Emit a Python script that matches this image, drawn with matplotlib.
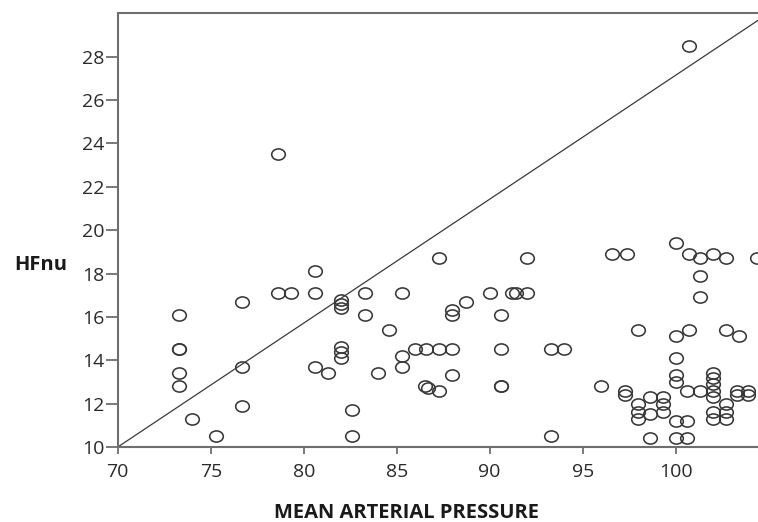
import matplotlib
matplotlib.use("Agg")
import matplotlib.pyplot as plt
from matplotlib.path import Path
from matplotlib.transforms import Affine2D

# mean arterial pressure vs HFnu
map_vals = [
    73.3, 73.3, 73.3, 73.3, 73.3, 74.0, 75.3, 76.7, 76.7, 76.7,
    78.6, 78.6, 79.3, 80.6, 80.6, 80.6, 81.3, 82.0, 82.0, 82.0,
    82.0, 82.0, 82.0, 82.6, 82.6, 83.3, 83.3, 84.0, 84.6, 85.3,
    85.3, 85.3, 86.0, 86.6, 86.5, 86.7, 87.3, 87.3, 87.3, 88.0,
    88.0, 88.0, 88.0, 88.7, 90.0, 90.6, 90.6, 90.6, 90.6, 91.2,
    91.4, 92.0, 92.0, 93.3, 94.0, 93.3, 96.0, 96.6, 97.4, 97.3,
    97.3, 98.0, 98.0, 98.0, 98.0, 98.6, 98.6, 98.6, 99.3, 99.3,
    99.3, 100.0, 100.0, 100.0, 100.0, 100.0, 100.0, 100.0, 100.6, 100.6,
    100.6, 100.7, 100.7, 100.7, 101.3, 101.3, 101.3, 101.3, 102.0, 102.0,
    102.0, 102.0, 102.0, 102.0, 102.0, 102.0, 102.7, 102.7, 102.7, 102.7,
    102.7, 103.4, 103.3, 103.3, 103.9, 103.9, 104.4,
]
hfnu_vals = [
    16.1, 14.5, 14.5, 13.4, 12.8, 11.3, 10.5, 16.7, 13.7, 11.9,
    23.5, 17.1, 17.1, 18.1, 17.1, 13.7, 13.4, 16.8, 16.6, 16.4,
    14.6, 14.4, 14.1, 11.7, 10.5, 17.1, 16.1, 13.4, 15.4, 17.1,
    14.2, 13.7, 14.5, 14.5, 12.8, 12.7, 14.5, 12.6, 18.7, 14.5,
    13.3, 16.3, 16.1, 16.7, 17.1, 16.1, 14.5, 12.8, 12.8, 17.1,
    17.1, 17.1, 18.7, 14.5, 14.5, 10.5, 12.8, 18.9, 18.9, 12.6,
    12.4, 15.4, 12.0, 11.6, 11.3, 12.3, 11.5, 10.4, 12.3, 12.0,
    11.6, 19.4, 15.1, 14.1, 13.3, 13.0, 11.2, 10.4, 10.4, 11.2,
    12.6, 18.9, 15.4, 28.5, 18.7, 17.9, 16.9, 12.6, 18.9, 13.4,
    13.2, 12.9, 12.6, 12.3, 11.6, 11.3, 18.7, 15.4, 12.0, 11.6,
    11.3, 15.1, 12.6, 12.4, 12.6, 12.4, 18.7,
]

x_ticks = [70, 75, 80, 85, 90, 95, 100]
y_ticks = [10, 12, 14, 16, 18, 20, 22, 24, 26, 28]
ref_x = [70, 105]
ref_y = [10, 30]

plt.rcParams['font.family'] = ['Open Sans', 'DejaVu Sans']

fig = plt.figure(figsize=(7.58, 5.22), dpi=100)
# the right edge of the plot box runs past the picture, as in the original crop
ax = fig.add_axes([117.8 / 758, 75 / 522, 650.8 / 758, 433.7 / 522])

# slightly flattened circle, like the original markers
ellipse = Path.unit_circle().transformed(Affine2D().scale(1.0, 0.82))

ax.plot(ref_x, ref_y, color="#3a3a3a", lw=0.9, zorder=2)
ax.plot(map_vals, hfnu_vals, linestyle="none", marker=ellipse, markersize=9.8,
        markerfacecolor="none", markeredgecolor="#383838", markeredgewidth=1.15,
        zorder=3)

ax.set_xlim(70, 105)
ax.set_ylim(10, 30)
ax.set_xticks(x_ticks)
ax.set_yticks(y_ticks)

for side in ["left", "bottom", "top", "right"]:
    ax.spines[side].set_color("#6e6e6e")
    ax.spines[side].set_linewidth(1.5)

ax.tick_params(axis="x", length=5, width=1.3, color="#6e6e6e", pad=6.5,
               labelsize=14, labelcolor="#2a2a2a")
ax.tick_params(axis="y", length=8.5, width=1.3, color="#6e6e6e", pad=1,
               labelsize=14, labelcolor="#2a2a2a")

ax.set_xlabel("MEAN ARTERIAL PRESSURE", fontsize=14.5, fontweight="bold",
              color="#1a1a1a")
ax.xaxis.set_label_coords(0.444, -0.128)
ax.set_ylabel("HFnu", fontsize=14.5, fontweight="bold", rotation=0,
              color="#1a1a1a", va="center", ha="center")
ax.yaxis.set_label_coords(-0.119, 0.42)

fig.savefig("out.png", dpi=100)
